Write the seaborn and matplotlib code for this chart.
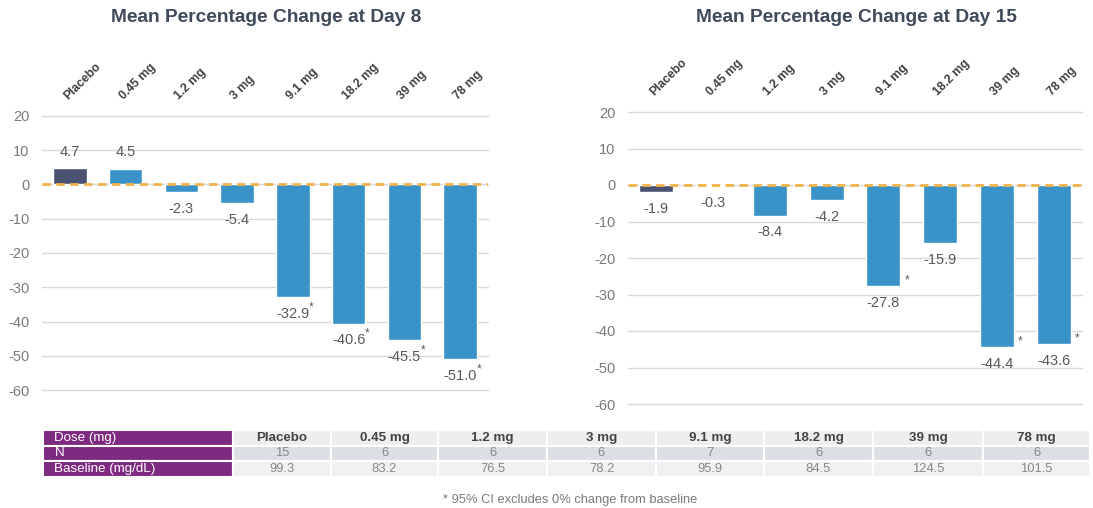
import matplotlib
matplotlib.use("Agg")
import matplotlib.pyplot as plt
import seaborn as sns
import pandas as pd

# ---------------- data ----------------
doses = ["Placebo", "0.45 mg", "1.2 mg", "3 mg", "9.1 mg", "18.2 mg", "39 mg", "78 mg"]
day8 = [4.7, 4.5, -2.3, -5.4, -32.9, -40.6, -45.5, -51.0]
day8_sig = [False, False, False, False, True, True, True, True]
day15 = [-1.9, -0.3, -8.4, -4.2, -27.8, -15.9, -44.4, -43.6]
day15_sig = [False, False, False, False, True, False, True, True]
n_subjects = [15, 6, 6, 6, 7, 6, 6, 6]
baseline = [99.3, 83.2, 76.5, 78.2, 95.9, 84.5, 124.5, 101.5]
row_labels = ["Dose (mg)", "N", "Baseline (mg/dL)"]
yticks = [-60, -50, -40, -30, -20, -10, 0, 10, 20]

# ---------------- style ----------------
sns.set_style("white")
plt.rcParams['font.family'] = ['Liberation Sans', 'DejaVu Sans']
plt.rcParams['axes.unicode_minus'] = False

DARK = "#4a5472"
BLUE = "#3a93c8"
ORANGE = "#f0b24a"
GRID = "#d9d9d9"
TITLE_C = "#3f4a5a"
VAL_C = "#595959"
TICK_C = "#7a7a7a"
PURPLE = "#7e2a80"

W, H = 1093, 508
fig = plt.figure(figsize=(W / 100, H / 100), dpi=100)
axL = fig.add_axes([42 / W, 1 - 390 / H, 446 / W, 274 / H])
axR = fig.add_axes([628 / W, 1 - 404 / H, 454 / W, 292 / H])


def panel(ax, values, sig, star_mode):
    df = pd.DataFrame({"dose": doses, "value": values})
    pal = {d: (DARK if d == "Placebo" else BLUE) for d in doses}
    sns.barplot(data=df, x="dose", y="value", hue="dose", order=doses,
                hue_order=doses, palette=pal, width=0.6, legend=False,
                saturation=1, ax=ax, zorder=3)
    ax.set_xlim(-0.5, 7.5)
    ax.set_ylim(-60, 20)
    ax.set_yticks(yticks)
    ax.yaxis.grid(True, color=GRID, lw=1, zorder=0)
    ax.xaxis.grid(False)
    ax.set_axisbelow(True)
    for gl in ax.get_ygridlines():
        gl.set_clip_on(False)
    ax.axhline(0, color=ORANGE, lw=2, ls=(0, (3, 2)), zorder=6)
    for s in ax.spines.values():
        s.set_visible(False)
    ax.set_xlabel("")
    ax.set_ylabel("")
    ax.xaxis.tick_top()
    ax.tick_params(axis='x', length=0, pad=10, labelsize=8.7, labelcolor="#404040")
    for lab in ax.get_xticklabels():
        lab.set_rotation(45)
        lab.set_ha('left')
        lab.set_va('bottom')
        lab.set_rotation_mode('anchor')
        lab.set_fontweight('bold')
    ax.tick_params(axis='y', length=0, pad=9, labelsize=10.5, labelcolor=TICK_C)

    for i, (v, s) in enumerate(zip(values, sig)):
        if v > 0:
            ax.annotate(f"{v:.1f}", xy=(i, v), xytext=(0, 7), textcoords='offset points',
                        ha='center', va='bottom', fontsize=10.5, color=VAL_C, zorder=7)
        else:
            ax.annotate(f"{v:.1f}", xy=(i, v), xytext=(0, -7), textcoords='offset points',
                        ha='center', va='top', fontsize=10.5, color=VAL_C, zorder=7)
        if s:
            if star_mode == "super":
                ax.annotate("*", xy=(i + 0.29, v), xytext=(0, -9.5), textcoords='offset points',
                            ha='left', va='baseline', fontsize=8.5, color=VAL_C, zorder=7)
            else:
                ax.annotate("*", xy=(i + 0.3, v), xytext=(3, 2), textcoords='offset points',
                            ha='left', va='baseline', fontsize=8.5, color=VAL_C, zorder=7)


panel(axL, day8, day8_sig, "super")
panel(axR, day15, day15_sig, "side")

fig.text(266 / W, 1 - 18 / H, "Mean Percentage Change at Day 8", ha='center', va='center',
         fontsize=13.8, fontweight='bold', color=TITLE_C)
fig.text(856 / W, 1 - 18 / H, "Mean Percentage Change at Day 15", ha='center', va='center',
         fontsize=13.8, fontweight='bold', color=TITLE_C)

# ---------------- table ----------------
tax = fig.add_axes([43 / W, 1 - 477 / H, 1047 / W, 47 / H])
tax.axis('off')
col_px = [190, 98, 107, 109, 109, 108, 109, 110, 107]
cell_text = [[row_labels[0]] + doses,
             [row_labels[1]] + [str(n) for n in n_subjects],
             [row_labels[2]] + [f"{b:.1f}" for b in baseline]]
tbl = tax.table(cellText=cell_text, colWidths=[w / sum(col_px) for w in col_px],
                bbox=[0, 0, 1, 1], cellLoc='center')
tbl.auto_set_font_size(False)
tbl.set_fontsize(9)
row_bg = ["#eeeeee", "#dcdfe3", "#f1f1f1"]
for (r, c), cell in tbl.get_celld().items():
    cell.set_edgecolor('white')
    cell.set_linewidth(1.5)
    txt = cell.get_text()
    if c == 0:
        cell.set_facecolor(PURPLE)
        cell.PAD = 0.06
        txt.set_ha('left')
        cell._loc = 'left'
        txt.set_color('white')
        txt.set_fontsize(9.6)
    else:
        cell.set_facecolor(row_bg[r])
        if r == 0:
            txt.set_fontweight('bold')
            txt.set_color('#444444')
            txt.set_fontsize(9.6)
        else:
            txt.set_color('#888888')
            txt.set_fontsize(9.4)

fig.text(570 / W, 1 - 500 / H, "* 95% CI excludes 0% change from baseline", ha='center',
         va='center', fontsize=9.3, color='#7a7a7a')

fig.savefig("out.png", dpi=100)
